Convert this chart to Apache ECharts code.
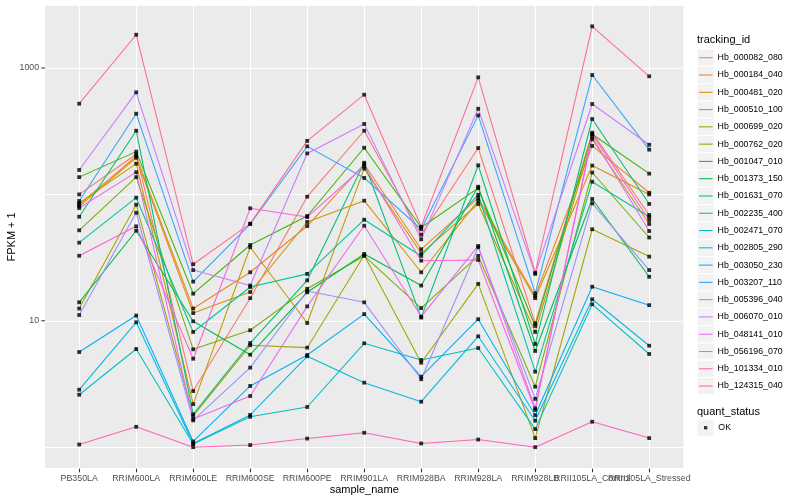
<!DOCTYPE html>
<html><head><meta charset="utf-8">
<script src="https://cdn.jsdelivr.net/npm/echarts@6/dist/echarts.min.js"></script>
<style>html,body{margin:0;padding:0;background:#fff}#c{width:800px;height:500px}</style>
</head><body><div id="c"></div>
<script>
const categories = ['PB350LA','RRIM600LA','RRIM600LE','RRIM600SE','RRIM600PE','RRIM901LA','RRIM928BA','RRIM928LA','RRIM928LB','RRII105LA_Control','RRII105LA_Stressed'];
const trackingIds = ['Hb_000082_080','Hb_000184_040','Hb_000481_020','Hb_000510_100','Hb_000699_020','Hb_000762_020','Hb_001047_010','Hb_001373_150','Hb_001631_070','Hb_002235_400','Hb_002471_070','Hb_002805_290','Hb_003050_230','Hb_003207_110','Hb_005396_040','Hb_006070_010','Hb_048141_010','Hb_056196_070','Hb_101334_010','Hb_124315_040'];
const colors = ['#F8766D','#EA8331','#D89000','#C09B00','#A3A500','#7CAE00','#39B600','#00BB4E','#00BF7D','#00C1A3','#00BFC4','#00BAE0','#00B0F6','#35A2FF','#9590FF','#C77CFF','#E76BF3','#FA62DB','#FF62BC','#FF6C91'];
const yTickLabels = ['10','1000'];
const quantStatus = ['OK'];

const Hb_000082_080 = [100, 208, 2.78, 15.1, 95.9, 319, 48.0, 233, 9.55, 308, 68.7];
const Hb_000184_040 = [82.9, 201, 12.5, 24.2, 56.2, 174, 36.8, 93.7, 15.7, 242, 103];
const Hb_000481_020 = [80.5, 195, 11.5, 16.9, 60.5, 89.2, 24.2, 89.2, 15.1, 169, 100];
const Hb_000510_100 = [85.5, 175, 2.19, 38.2, 9.61, 160, 34.2, 84.0, 8.16, 273, 58.3];
const Hb_000699_020 = [12.5, 82.9, 1.77, 6.40, 6.13, 33.0, 4.66, 19.6, 1.18, 53.0, 32.2];
const Hb_000762_020 = [52.0, 137, 5.95, 8.41, 17.9, 32.6, 12.6, 32.6, 3.01, 149, 45.6];
const Hb_001047_010 = [137, 218, 16.4, 39.8, 67.5, 234, 54.7, 112, 9.10, 299, 146];
const Hb_001373_150 = [14.0, 51.6, 9.91, 5.39, 16.8, 33.8, 19.0, 115, 5.77, 92.0, 22.3];
const Hb_001631_070 = [66.6, 319, 1.82, 6.67, 20.9, 178, 10.6, 170, 6.55, 395, 84.0];
const Hb_002235_400 = [41.5, 94.2, 8.16, 18.5, 23.5, 63.1, 32.6, 99.4, 3.96, 126, 66.6];
const Hb_002471_070 = [2.60, 5.98, 1.06, 1.74, 2.08, 6.64, 4.90, 6.09, 1.39, 13.5, 5.46];
const Hb_002805_290 = [2.85, 9.73, 1.07, 1.80, 5.24, 3.24, 2.29, 7.54, 1.62, 14.8, 6.35];
const Hb_003050_230 = [5.66, 11.0, 1.11, 3.05, 5.36, 11.3, 3.61, 10.3, 1.79, 18.6, 13.3];
const Hb_003207_110 = [88.7, 435, 20.4, 58.3, 240, 135, 53.0, 422, 16.5, 880, 226];
const Hb_005396_040 = [11.1, 71.6, 1.63, 4.26, 17.2, 14.0, 3.45, 38.2, 2.41, 85.0, 25.2];
const Hb_006070_010 = [156, 642, 25.2, 19.0, 211, 361, 44.1, 476, 23.5, 519, 247];
const Hb_048141_010 = [78.0, 150, 1.67, 2.54, 13.0, 56.5, 10.8, 39.1, 2.03, 286, 51.3];
const Hb_056196_070 = [32.7, 55.9, 5.01, 77.6, 66.2, 167, 29.9, 30.3, 1.97, 300, 62.7];
const Hb_101334_010 = [1.05, 1.45, 1.0, 1.04, 1.17, 1.30, 1.07, 1.15, 1.0, 1.59, 1.18];
const Hb_124315_040 = [522, 1834, 28.0, 58.7, 265, 615, 55.5, 844, 24.0, 2137, 860];

const seriesValues = [Hb_000082_080, Hb_000184_040, Hb_000481_020, Hb_000510_100, Hb_000699_020, Hb_000762_020, Hb_001047_010, Hb_001373_150, Hb_001631_070, Hb_002235_400, Hb_002471_070, Hb_002805_290, Hb_003050_230, Hb_003207_110, Hb_005396_040, Hb_006070_010, Hb_048141_010, Hb_056196_070, Hb_101334_010, Hb_124315_040];

const FONT = "'Liberation Sans', Arial, Helvetica, sans-serif";
const yMin = 0.677, yMax = 3140;
const PL = 45, PR = 683.4, PT = 5.2, PB = 468.6;
const X0 = 79.2, X1 = 649.2;
const KEY = 17.28, KEYTOP = 49.1, KEYLEFT = 697;

const series = trackingIds.map((id, i) => ({
  name: id, type: 'line', xAxisIndex: 1, yAxisIndex: 1,
  data: seriesValues[i], symbol: 'none', silent: true,
  lineStyle: { color: colors[i], width: 1.07 }, itemStyle: { color: colors[i] }, z: 2
}));
const pts = [];
seriesValues.forEach(arr => arr.forEach((v, j) => pts.push([j, v])));
series.push({
  name: quantStatus[0], type: 'scatter', xAxisIndex: 1, yAxisIndex: 1,
  data: pts, symbol: 'rect', symbolSize: 3.8, itemStyle: { color: '#000' }, z: 3, silent: true
});

const keyRects = trackingIds.map((id, i) => ({
  type: 'rect', z: 0,
  shape: { x: KEYLEFT, y: KEYTOP + i * KEY, width: KEY, height: KEY },
  style: { fill: '#F2F2F2', stroke: '#fff', lineWidth: 1.07 }
}));
keyRects.push({
  type: 'rect', z: 0,
  shape: { x: KEYLEFT, y: 419.1, width: KEY, height: KEY },
  style: { fill: '#F2F2F2', stroke: '#fff', lineWidth: 1.07 }
});

const chart = echarts.init(document.getElementById('c'), null, { renderer: 'canvas' });
chart.setOption({
  animation: false,
  backgroundColor: '#fff',
  textStyle: { fontFamily: FONT },
  title: [
    { text: 'tracking_id', left: KEYLEFT, top: 34, padding: 0, textStyle: { fontSize: 11, fontWeight: 'normal', color: '#000', fontFamily: FONT } },
    { text: 'quant_status', left: KEYLEFT, top: 406, padding: 0, textStyle: { fontSize: 11, fontWeight: 'normal', color: '#000', fontFamily: FONT } }
  ],
  grid: [
    { left: PL, right: 800 - PR, top: PT, bottom: 500 - PB, show: true, backgroundColor: '#EBEBEB', borderWidth: 0, containLabel: false, outerBoundsMode: 'none' },
    { left: X0, right: 800 - X1, top: PT, bottom: 500 - PB, containLabel: false, outerBoundsMode: 'none' }
  ],
  xAxis: [
    { gridIndex: 0, type: 'value', min: 0, max: 1, show: false },
    { gridIndex: 1, type: 'category', data: categories, boundaryGap: false,
      axisLine: { show: false },
      axisTick: { show: true, length: 3.7, lineStyle: { color: '#333333', width: 1.07 } },
      axisLabel: { interval: 0, hideOverlap: false, fontSize: 8.8, color: '#4D4D4D', margin: 5.5, fontFamily: FONT },
      splitLine: { show: true, lineStyle: { color: '#fff', width: 1.07 } },
      name: 'sample_name', nameLocation: 'middle', nameGap: 16, nameMoveOverlap: false,
      nameTextStyle: { fontSize: 11, color: '#000', fontFamily: FONT } }
  ],
  yAxis: [
    { gridIndex: 0, type: 'log', logBase: 10, min: yMin, max: yMax,
      axisLine: { show: false }, axisTick: { show: false },
      splitLine: { show: true, lineStyle: { color: '#fff', width: 1.07 } },
      axisLabel: {
        margin: 0,
        formatter: function (v) {
          const r = yTickLabels.find(t => Math.abs(+t - v) < 1e-6 * +t);
          return r ? '{l|' + r + '}{t|}' : '';
        },
        rich: {
          l: { fontSize: 8.8, color: '#4D4D4D', padding: [0, 2.2, 0, 0], fontFamily: FONT },
          t: { width: 3.7, height: 1.07, backgroundColor: '#333333' }
        }
      },
      name: 'FPKM + 1', nameLocation: 'middle', nameGap: 28, nameRotate: 90, nameMoveOverlap: false,
      nameTextStyle: { fontSize: 11, color: '#000', fontFamily: FONT } },
    { gridIndex: 1, type: 'log', logBase: 10, min: yMin, max: yMax, show: false }
  ],
  legend: [
    { data: trackingIds, orient: 'vertical', left: 699, top: KEYTOP, itemWidth: 13.6, itemHeight: 1.07,
      itemGap: 0, icon: 'rect', padding: 0, selectedMode: false,
      textStyle: { fontSize: 8.8, color: '#000', lineHeight: KEY, fontFamily: FONT } },
    { data: quantStatus, orient: 'vertical', left: 704, top: 419.1, itemWidth: 3.3, itemHeight: 3.3,
      icon: 'rect', padding: 0, selectedMode: false,
      textStyle: { fontSize: 8.8, color: '#000', lineHeight: KEY, padding: [0, 0, 0, 6], fontFamily: FONT } }
  ],
  graphic: keyRects,
  series: series
});
</script>
</body></html>
